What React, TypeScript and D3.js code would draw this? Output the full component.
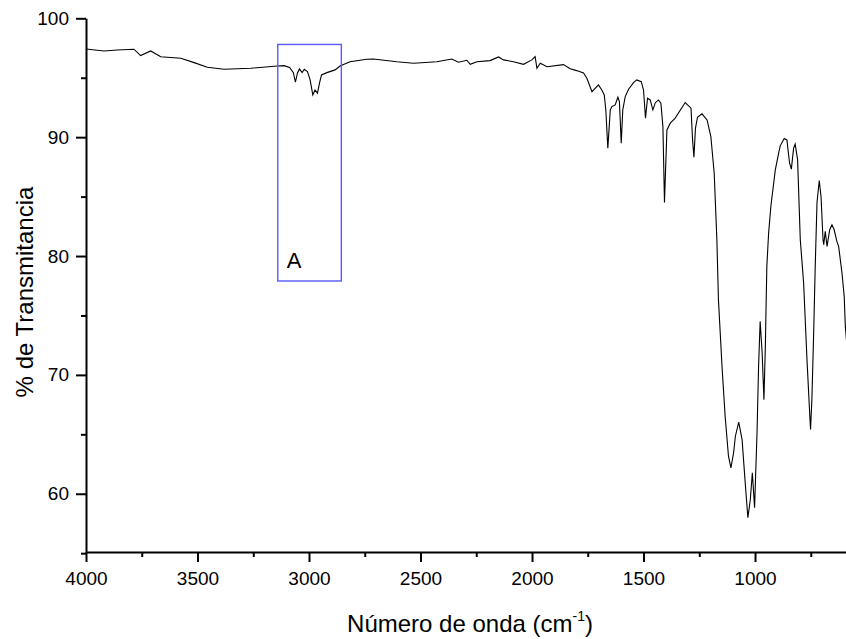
import React, { useEffect, useRef } from 'react';
import * as d3 from 'd3';

// IR spectrum (wavenumber cm-1, % transmittance)
const wavenumbers = [
  4000, 3919, 3861, 3785, 3755, 3710, 3665, 3575, 3515, 3456, 3381, 3261, 3142, 3112, 3087,
  3070, 3061, 3052, 3043, 3031, 3021, 3007, 2995, 2983, 2973, 2962, 2953, 2944, 2920, 2883,
  2861, 2816, 2741, 2711, 2606, 2531, 2427, 2360, 2330, 2292, 2277, 2247, 2188, 2150, 2128,
  2083, 2038, 2001, 1986, 1978, 1963, 1933, 1859, 1829, 1800, 1769, 1754, 1731, 1702, 1687,
  1676, 1669, 1660, 1649, 1642, 1627, 1615, 1608, 1600, 1593, 1582, 1567, 1545, 1530, 1510,
  1500, 1491, 1482, 1470, 1458, 1447, 1433, 1422, 1413, 1406, 1395, 1380, 1358, 1313, 1287,
  1280, 1274, 1267, 1258, 1238, 1215, 1198, 1183, 1171, 1164, 1148, 1134, 1119, 1108, 1096,
  1088, 1073, 1058, 1044, 1032, 1021, 1012, 1002, 991, 984, 977, 968, 960, 954, 947,
  939, 929, 909, 894, 887, 869, 857, 845, 837, 827, 820, 809, 797, 782, 767,
  755, 751, 745, 737, 730, 722, 712, 704, 695, 692, 685, 677, 665, 655, 645,
  633, 625, 610, 600, 595, 588
];
const transmittance = [
  97.42, 97.25, 97.33, 97.4, 96.86, 97.25, 96.77, 96.64, 96.27, 95.88, 95.71, 95.8, 95.99, 96.02, 95.86,
  95.43, 94.62, 95.38, 95.74, 95.43, 95.71, 95.51, 94.82, 93.55, 93.97, 93.7, 94.54, 95.24, 95.43, 95.66,
  95.99, 96.35, 96.55, 96.58, 96.35, 96.22, 96.35, 96.58, 96.3, 96.47, 96.13, 96.35, 96.44, 96.75, 96.5,
  96.35, 96.13, 96.5, 96.77, 95.8, 96.22, 95.93, 96.1, 95.75, 95.6, 95.4, 94.96, 93.83, 94.39, 93.97,
  93.55, 92.29, 89.08, 92.29, 92.57, 92.71, 93.36, 92.99, 89.5, 92.29, 93.41, 94.03, 94.59, 94.82, 94.67,
  93.97, 91.6, 93.28, 93.13, 92.29, 92.9, 93.13, 92.86, 90.89, 84.5, 90.61, 91.18, 91.6, 92.91, 92.44,
  89.77, 88.32, 90.76, 91.68, 91.96, 91.45, 90.05, 86.97, 81.37, 76.33, 70.72, 66.52, 63.16, 62.18, 63.45,
  64.84, 66.02, 64.56, 60.92, 57.98, 59.52, 61.76, 58.82, 65.13, 70.72, 74.5, 71.85, 67.92, 72.13, 79.13,
  81.93, 84.17, 87.25, 88.65, 89.27, 89.88, 89.77, 87.81, 87.31, 89.08, 89.41, 88.09, 81.37, 77.73, 71.29,
  66.81, 65.4, 67.92, 73.53, 79.13, 84.5, 86.35, 85.01, 81.37, 80.95, 82.07, 80.81, 82.21, 82.63, 82.21,
  81.23, 80.81, 78.57, 76.6, 74.08, 72.5
];

const xMajorTicks = [4000, 3500, 3000, 2500, 2000, 1500, 1000];
const xMinorTicks = [3750, 3250, 2750, 2250, 1750, 1250, 750];
const yMajorTicks = [60, 70, 80, 90, 100];
const yMinorTicks = [55, 65, 75, 85, 95];

// highlighted region "A"
const boxLabel = 'A';
const boxWavenumbers = [3140, 2855];
const boxTransmittance = [97.8, 77.9];

const xTitle = 'Número de onda (cm';
const yTitle = '% de Transmitancia';

const W = 846;
const H = 639;
const font = "'Liberation Sans', Arial, sans-serif";

export default function App() {
  const xAxisRef = useRef<SVGGElement>(null);
  const xMinorRef = useRef<SVGGElement>(null);
  const yAxisRef = useRef<SVGGElement>(null);
  const yMinorRef = useRef<SVGGElement>(null);

  const left = 86,
    right = 846,
    top = 18.3,
    bottom = 552;

  const x = d3.scaleLinear().domain([4000, 592]).range([left, right]);
  const y = d3.scaleLinear().domain([55.1, 100]).range([bottom, top]);

  const points = wavenumbers.map((w, i) => [w, transmittance[i]] as [number, number]);
  const line = d3
    .line<[number, number]>()
    .x(d => x(d[0]))
    .y(d => y(d[1]));

  useEffect(() => {
    const style = (g: any) => {
      g.selectAll('path').attr('stroke', '#000').attr('stroke-width', 2);
      g.selectAll('line').attr('stroke', '#000').attr('stroke-width', 2);
      g.selectAll('text').style('font-size', '19px').style('font-family', font).attr('fill', '#000');
    };
    const xMajor = d3.axisBottom(x).tickValues(xMajorTicks).tickSize(10).tickSizeOuter(0).tickPadding(10).tickFormat(d3.format('d'));
    const xMinor = d3.axisBottom(x).tickValues(xMinorTicks).tickSize(5).tickFormat(() => '');
    const yMajor = d3.axisLeft(y).tickValues(yMajorTicks).tickSize(10).tickSizeOuter(0).tickPadding(7).tickFormat(d3.format('d'));
    const yMinor = d3.axisLeft(y).tickValues(yMinorTicks).tickSize(5).tickFormat(() => '');

    const gx = d3.select(xAxisRef.current!);
    gx.selectAll('*').remove();
    gx.call(xMajor as any).call(style);
    const gxm = d3.select(xMinorRef.current!);
    gxm.selectAll('*').remove();
    gxm.call(xMinor as any).call(style);
    gxm.select('.domain').remove();

    const gy = d3.select(yAxisRef.current!);
    gy.selectAll('*').remove();
    gy.call(yMajor as any).call(style);
    const gym = d3.select(yMinorRef.current!);
    gym.selectAll('*').remove();
    gym.call(yMinor as any).call(style);
    gym.select('.domain').remove();
  }, []);

  const bx0 = x(boxWavenumbers[0]),
    bx1 = x(boxWavenumbers[1]),
    by0 = y(boxTransmittance[0]),
    by1 = y(boxTransmittance[1]);

  return (
    <svg
      width={W}
      height={H}
      style={{ position: 'absolute', left: 0, top: 0, background: '#fff' }}
      fontFamily={font}
    >
      <defs>
        <clipPath id="plotClip">
          <rect x={left} y={0} width={right - left} height={bottom} />
        </clipPath>
      </defs>
      <path d={line(points) || ''} fill="none" stroke="#000" strokeWidth={1.1} clipPath="url(#plotClip)" />

      <rect x={bx0} y={by0} width={bx1 - bx0} height={by1 - by0} fill="none" stroke="#5a5aff" strokeWidth={1.4} />
      <text x={bx0 + 9} y={by1 - 13} fontSize={22} fill="#000">
        {boxLabel}
      </text>

      <g ref={xMinorRef} transform={`translate(0,${bottom})`} />
      <g ref={xAxisRef} transform={`translate(0,${bottom})`} />
      <g ref={yMinorRef} transform={`translate(${left},0)`} />
      <g ref={yAxisRef} transform={`translate(${left},0)`} />

      <text x={470} y={632} textAnchor="middle" fontSize={24} fill="#000">
        {xTitle}
        <tspan fontSize={14} dy={-11}>-1</tspan>
        <tspan dy={11}>)</tspan>
      </text>
      <text transform={`translate(33,292) rotate(-90)`} textAnchor="middle" fontSize={24} fill="#000">
        {yTitle}
      </text>
    </svg>
  );
}
